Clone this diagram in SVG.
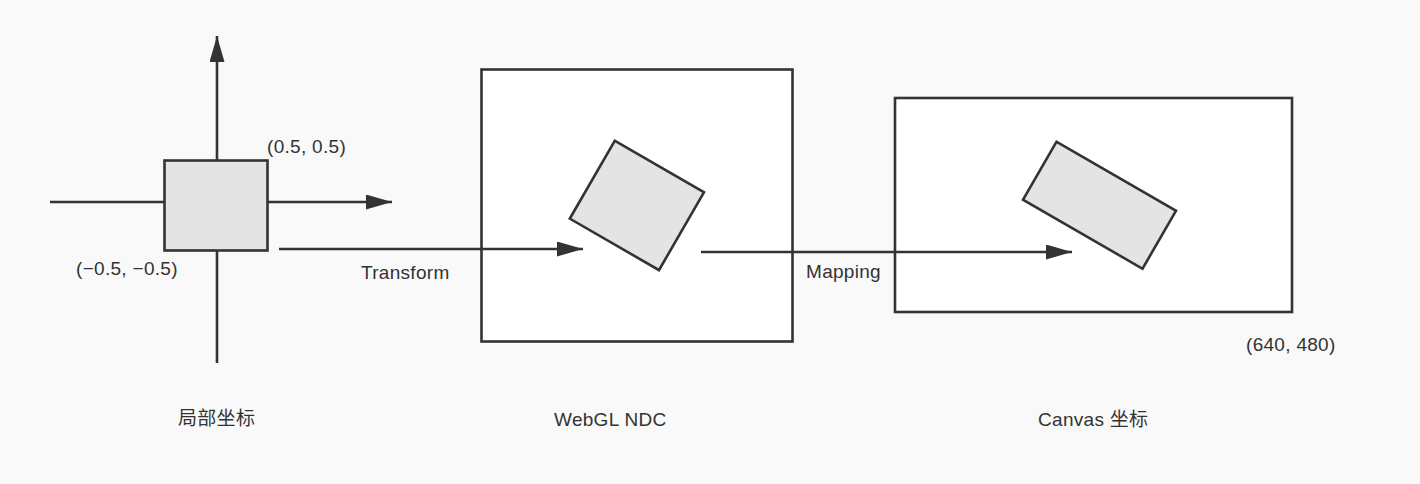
<svg xmlns="http://www.w3.org/2000/svg" width="1420" height="484" viewBox="0 0 1420 484">
  <style>
    .ln { stroke: #333333; stroke-width: 2.6; fill: none; }
    .shape { fill: #e4e4e4; stroke: #333333; stroke-width: 2.6; }
    .frame { fill: #ffffff; stroke: #333333; stroke-width: 2.6; }
    .t { font-family: "Liberation Sans", "Noto Sans CJK SC", sans-serif; font-size: 19px; fill: #333333; letter-spacing: 0.3px; }
  </style>
  <defs>
    <marker id="arr" markerUnits="userSpaceOnUse" markerWidth="26" markerHeight="16" refX="26" refY="7.5" orient="auto">
      <path d="M0,0 L26,7.5 L0,15 Z" fill="#333333"/>
    </marker>
  </defs>
  <rect width="1420" height="484" fill="#f9f9f9"/>

  <g id="local">
    <line class="ln" x1="217" y1="363" x2="217" y2="36" marker-end="url(#arr)"/>
    <line class="ln" x1="50" y1="202" x2="392" y2="202" marker-end="url(#arr)"/>
    <rect class="shape" x="164.5" y="160.5" width="103" height="90"/>
    <text class="t" x="267" y="153">(0.5, 0.5)</text>
    <text class="t" x="76" y="275">(−0.5, −0.5)</text>
    <text class="t" x="178" y="425">局部坐标</text>
  </g>

  <g id="ndc">
    <rect class="frame" x="481.5" y="69.5" width="311" height="272"/>
    <rect class="shape" x="-51.5" y="-45" width="103" height="90" transform="translate(636.9 205.4) rotate(30)"/>
    <text class="t" x="554" y="426">WebGL NDC</text>
  </g>

  <g id="canvas">
    <rect class="frame" x="895" y="98" width="397" height="214"/>
    <rect class="shape" x="-69" y="-33.5" width="138" height="67" transform="translate(1099.5 205.2) rotate(30)"/>
    <text class="t" x="1246" y="351">(640, 480)</text>
    <text class="t" x="1038" y="426">Canvas 坐标</text>
  </g>

  <g id="connectors">
    <line class="ln" x1="279" y1="249" x2="583" y2="249" marker-end="url(#arr)"/>
    <text class="t" x="361" y="279">Transform</text>
    <line class="ln" x1="701" y1="252" x2="1072" y2="252" marker-end="url(#arr)"/>
    <text class="t" x="806" y="278">Mapping</text>
  </g>
</svg>
